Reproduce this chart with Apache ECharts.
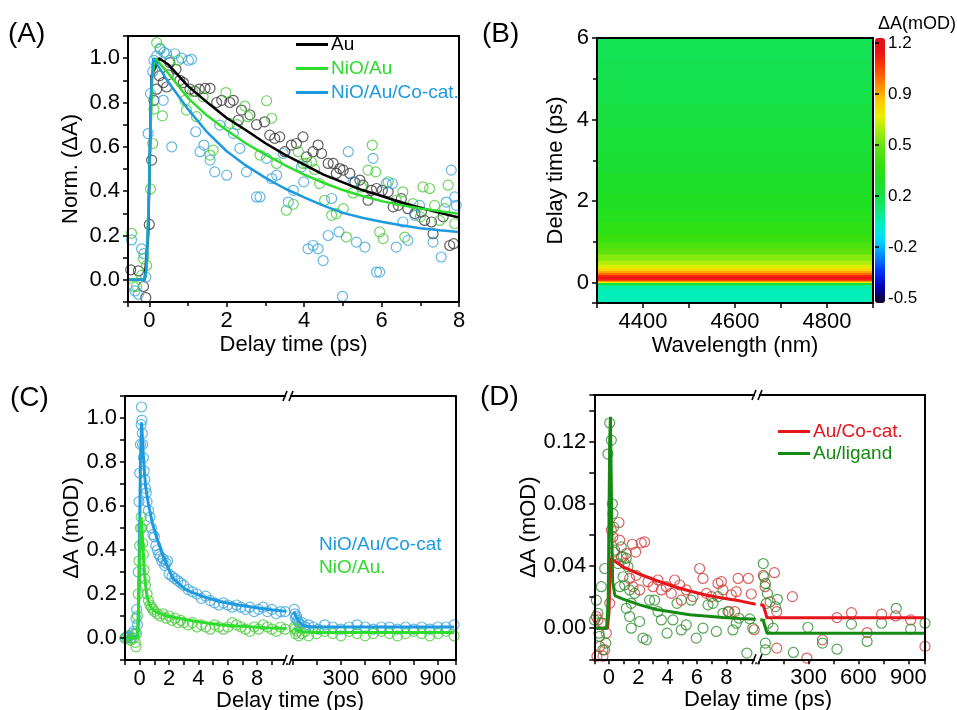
<!DOCTYPE html>
<html><head><meta charset="utf-8">
<script src="https://cdn.jsdelivr.net/npm/echarts@6/dist/echarts.min.js"></script>
<style>html,body{margin:0;padding:0;background:#fff}#c{width:957px;height:710px}</style>
</head><body><div id="c"></div>
<script>
const FONT = '"Liberation Sans", Arial, sans-serif';

// ---------- Panel A ----------
const aAuPts = [[-0.48,0.045],[-0.28,0.04],[-0.15,-0.03],[-0.09,-0.08],[0.0,0.25],[0.06,0.54],[0.12,0.81],[0.19,0.86],[0.26,0.92],[0.36,0.89],[0.45,0.87],[0.49,0.925],[0.53,0.98],[0.69,0.95],[0.79,0.90],[0.88,0.89],[1.05,0.86],[1.18,0.85],[1.29,0.86],[1.44,0.864],[1.57,0.864],[1.74,0.80],[1.87,0.81],[2.08,0.80],[2.17,0.81],[2.30,0.72],[2.38,0.766],[2.60,0.744],[2.77,0.70],[2.98,0.713],[3.11,0.653],[3.24,0.638],[3.37,0.645],[3.50,0.578],[3.67,0.608],[3.80,0.615],[3.97,0.645],[4.06,0.555],[4.23,0.578],[4.36,0.608],[4.45,0.57],[4.62,0.525],[4.75,0.525],[4.83,0.48],[4.92,0.502],[5.01,0.495],[5.18,0.48],[5.31,0.44],[5.44,0.45],[5.52,0.427],[5.65,0.359],[5.74,0.404],[5.87,0.412],[6.02,0.404],[6.17,0.397],[6.30,0.329],[6.43,0.336],[6.51,0.366],[6.68,0.321],[6.86,0.299],[7.03,0.306],[7.11,0.268],[7.29,0.261],[7.33,0.208],[7.59,0.284],[7.76,0.155],[7.86,0.163]];
const aNiOPts = [[-0.46,0.21],[-0.41,-0.03],[-0.33,-0.03],[-0.2,0.02],[-0.15,0.095],[-0.07,0.065],[0.03,0.41],[0.09,0.615],[0.12,0.77],[0.19,1.07],[0.28,1.045],[0.34,0.74],[0.53,0.99],[0.75,0.99],[0.92,0.81],[0.96,0.766],[1.12,0.85],[1.22,0.736],[1.39,0.826],[1.57,0.563],[1.65,0.585],[1.98,0.845],[2.08,0.706],[2.27,0.70],[2.47,0.784],[2.55,0.736],[2.86,0.563],[3.03,0.808],[3.16,0.729],[3.29,0.525],[3.54,0.314],[3.72,0.341],[3.85,0.578],[3.97,0.525],[4.06,0.525],[4.19,0.532],[4.27,0.498],[4.40,0.434],[4.53,0.359],[4.71,0.291],[4.83,0.299],[5.01,0.321],[5.09,0.193],[5.26,0.392],[5.48,0.419],[5.65,0.495],[5.76,0.608],[5.85,0.487],[5.95,0.216],[6.04,0.186],[6.17,0.442],[6.38,0.359],[6.55,0.397],[6.60,0.193],[6.81,0.344],[7.00,0.284],[7.07,0.419],[7.24,0.412],[7.37,0.336],[7.50,0.268],[7.63,0.321],[7.72,0.427],[7.89,0.253]];
const aCoPts = [[-0.46,0.18],[-0.37,-0.05],[-0.28,-0.065],[-0.2,0.14],[-0.14,0.118],[-0.09,0.012],[-0.03,0.66],[0.03,0.84],[0.09,0.94],[0.12,0.99],[0.19,1.01],[0.28,1.04],[0.38,1.026],[0.36,0.81],[0.45,1.02],[0.58,0.60],[0.66,1.02],[0.83,1.0],[1.01,0.99],[1.09,0.995],[1.20,0.668],[1.31,0.578],[1.41,0.608],[1.57,0.54],[1.69,0.487],[1.82,0.698],[2.0,0.472],[2.17,0.661],[2.34,0.593],[2.51,0.487],[2.77,0.374],[2.86,0.374],[3.03,0.548],[3.16,0.457],[3.29,0.472],[3.46,0.570],[3.59,0.351],[3.72,0.404],[3.93,0.51],[3.99,0.442],[4.10,0.14],[4.23,0.155],[4.36,0.14],[4.49,0.087],[4.62,0.20],[4.71,0.367],[4.90,0.216],[4.99,-0.075],[5.14,0.578],[5.26,0.442],[5.35,0.17],[5.57,0.148],[5.78,0.548],[5.87,0.035],[5.95,0.035],[6.12,0.434],[6.28,0.434],[6.38,0.148],[6.55,0.261],[6.68,0.178],[6.86,0.291],[6.98,0.336],[7.33,0.17],[7.54,0.103],[7.67,0.351],[7.80,0.495],[7.89,0.374],[7.93,0.336]];
const aAuFit = [[-0.55,0],[-0.12,0],[-0.03,0.2],[0.06,0.92],[0.25,1.0],[0.5,0.97],[1,0.874],[1.5,0.80],[2,0.73],[2.5,0.675],[3,0.616],[3.5,0.565],[4,0.52],[4.5,0.475],[5,0.44],[5.5,0.405],[6,0.378],[6.5,0.35],[7,0.325],[7.5,0.302],[8,0.281]];
const aNiOFit = [[-0.55,0],[-0.12,0],[-0.07,0.05],[0,0.45],[0.07,0.9],[0.15,1.0],[0.5,0.93],[1,0.82],[1.5,0.74],[2,0.675],[2.5,0.615],[3,0.565],[3.5,0.518],[4,0.475],[4.5,0.438],[5,0.405],[5.5,0.378],[6,0.355],[6.5,0.337],[7,0.322],[7.5,0.31],[8,0.298]];
const aCoFit = [[-0.55,0],[-0.12,0],[-0.08,0.05],[-0.02,0.3],[0.04,0.83],[0.1,1.0],[0.5,0.89],[1,0.77],[1.5,0.665],[2,0.58],[2.5,0.515],[3,0.46],[3.5,0.412],[4,0.372],[4.5,0.335],[5,0.302],[5.5,0.28],[6,0.262],[6.5,0.246],[7,0.233],[7.5,0.224],[8,0.216]];
const aNames = ['Au','NiO/Au','NiO/Au/Co-cat.'];

// ---------- Panel B ----------
const heatWavelengthRange = [4300, 4900];
const heatDelayEdges = [-0.5,-0.3,-0.15,-0.05,0,0.04,0.08,0.12,0.16,0.2,0.25,0.3,0.37,0.45,0.55,0.7,0.85,1.0,1.2,1.5,1.8,2.2,2.7,3.2,3.8,4.4,5.0,5.5,6.0];
const heatValues = [0.02,0.02,0.04,0.25,0.7,1.0,1.1,1.12,1.05,0.95,0.85,0.76,0.68,0.62,0.56,0.5,0.45,0.4,0.36,0.32,0.29,0.27,0.24,0.22,0.2,0.18,0.17,0.16];
const heatColors = ['#140028','#0000b4','#0030ff','#0088ff','#00d8ff','#00f0c8','#10e878','#18e040','#20e020','#38e010','#60e410','#a0ec10','#e8f000','#ffc800','#ff8800','#ff4400','#ee1414','#e0101c'];
const colorbarLabels = ['-0.5','-0.2','0.2','0.5','0.9','1.2'];

// ---------- Panel C ----------
const cCoLeftPts = [[-1,0.0],[-0.9,0.005],[-0.8,0.0],[-0.7,0.01],[-0.6,0.0],[-0.5,0.02],[-0.4,0.03],[-0.3,0.02],[-0.25,0.09],[-0.2,0.13],[-0.15,0.06],[-0.1,0.3],[-0.05,0.62],[0,0.75],[0.05,0.88],[0.1,0.97],[0.12,1.05],[0.15,0.99],[0.18,0.93],[0.2,0.88],[0.25,0.82],[0.3,0.76],[0.35,0.72],[0.4,0.68],[0.45,0.66],[0.5,0.62],[0.6,0.58],[0.7,0.55],[0.8,0.5],[0.9,0.47],[1.0,0.46],[1.1,0.42],[1.2,0.4],[1.3,0.38],[1.4,0.37],[1.5,0.35],[1.6,0.36],[1.7,0.33],[1.8,0.34],[1.9,0.35],[2.0,0.29],[2.2,0.28],[2.4,0.27],[2.6,0.26],[2.8,0.25],[3.0,0.24],[3.3,0.22],[3.6,0.21],[3.9,0.2],[4.2,0.18],[4.5,0.19],[4.8,0.17],[5.1,0.16],[5.4,0.15],[5.7,0.16],[6.0,0.15],[6.3,0.14],[6.6,0.15],[6.9,0.14],[7.2,0.13],[7.5,0.14],[7.8,0.12],[8.1,0.13],[8.4,0.14],[8.7,0.12],[9.0,0.13],[9.3,0.11],[9.6,0.12],[9.9,0.12]];
const cNiOLeftPts = [[-1,0],[-0.8,0.01],[-0.6,-0.01],[-0.4,0.0],[-0.3,-0.02],[-0.25,-0.04],[-0.2,0.02],[-0.15,0.1],[-0.1,0.2],[-0.05,0.35],[0,0.42],[0.05,0.5],[0.1,0.55],[0.15,0.5],[0.2,0.43],[0.25,0.38],[0.3,0.31],[0.35,0.27],[0.4,0.24],[0.5,0.2],[0.6,0.17],[0.7,0.15],[0.8,0.14],[0.9,0.13],[1.0,0.12],[1.2,0.11],[1.4,0.10],[1.6,0.11],[1.8,0.09],[2.0,0.10],[2.2,0.08],[2.4,0.09],[2.6,0.07],[2.8,0.08],[3.0,0.07],[3.3,0.06],[3.6,0.07],[3.9,0.05],[4.2,0.06],[4.5,0.05],[4.8,0.04],[5.1,0.06],[5.4,0.05],[5.7,0.04],[6.0,0.05],[6.3,0.07],[6.6,0.06],[6.9,0.05],[7.2,0.04],[7.5,0.03],[7.8,0.05],[8.1,0.04],[8.4,0.06],[8.7,0.05],[9.0,0.04],[9.3,0.03],[9.6,0.05],[9.9,0.04]];
const cCoRightPts = [[12,0.13],[15,0.11],[20,0.09],[25,0.10],[30,0.08],[40,0.07],[50,0.06],[60,0.07],[80,0.05],[100,0.06],[130,0.05],[160,0.04],[200,0.06],[250,0.05],[300,0.04],[350,0.05],[400,0.06],[450,0.05],[500,0.04],[550,0.05],[600,0.05],[650,0.04],[700,0.05],[750,0.04],[800,0.05],[850,0.04],[900,0.05],[950,0.05],[1000,0.06]];
const cNiORightPts = [[12,0.05],[15,0.04],[20,0.02],[30,0.03],[40,0.01],[60,0.02],[80,0.03],[100,0.01],[150,0.02],[200,0.03],[250,0.02],[300,0.01],[350,0.03],[400,0.02],[450,0.01],[500,0.02],[550,0.03],[600,0.02],[650,0.01],[700,0.02],[750,0.03],[800,0.02],[850,0.01],[900,0.02],[950,0.03],[1000,0.01]];
const cCoLeftFit = [[-1,0],[-0.2,0],[-0.1,0.05],[0,0.5],[0.05,0.8],[0.13,0.98],[0.23,0.85],[0.32,0.76],[0.41,0.686],[0.59,0.61],[0.87,0.52],[1.21,0.445],[1.56,0.378],[1.9,0.325],[2.25,0.272],[3.16,0.219],[4.3,0.188],[5.45,0.166],[6.6,0.151],[7.75,0.14],[8.9,0.128],[10,0.121]];
const cNiOLeftFit = [[-1,0],[-0.15,0],[-0.05,0.2],[0.05,0.5],[0.1,0.55],[0.15,0.5],[0.23,0.41],[0.3,0.32],[0.41,0.234],[0.5,0.19],[0.64,0.158],[0.8,0.135],[1.1,0.12],[1.5,0.107],[2.0,0.098],[3.16,0.083],[4.3,0.071],[5.45,0.06],[6.6,0.055],[7.75,0.05],[8.9,0.046],[10,0.043]];
const cCoRightFit = [[10,0.12],[20,0.1],[40,0.075],[60,0.06],[90,0.052],[150,0.05],[1000,0.05]];
const cNiORightFit = [[10,0.043],[20,0.035],[40,0.03],[80,0.027],[150,0.025],[1000,0.025]];

// ---------- Panel D ----------
const dCoLeftPts = [[-0.86,0.0075],[-0.75,0.0053],[-0.52,0.0032],[-0.63,-0.0117],[-0.41,-0.018],[-0.29,-0.0139],[-0.82,-0.018],[-0.18,-0.0032],[0.05,0.016],[0.16,0.063],[0.27,0.0587],[0.32,0.049],[0.68,0.068],[0.73,0.0566],[0.84,0.0459],[1.07,0.0416],[1.18,0.048],[1.59,0.054],[1.82,0.049],[2.2,0.0549],[2.43,0.0555],[1.86,0.034],[1.41,0.032],[1.64,0.0267],[2.09,0.0246],[2.66,0.0299],[3.0,0.0267],[3.34,0.031],[3.57,0.0246],[3.91,0.0267],[4.25,0.0224],[4.48,0.031],[4.82,0.0278],[4.93,0.018],[5.27,0.0246],[5.73,0.0203],[6.18,0.0384],[6.41,0.032],[6.64,0.0224],[6.98,0.0203],[7.43,0.0288],[7.66,0.0299],[7.77,0.0246],[8.18,0.0107],[8.34,0.0214],[8.57,0.0107],[8.68,0.0235],[8.8,0.032],[9.5,0.032],[9.7,0.022],[9.9,-0.001]];
const dLigLeftPts = [[-0.86,0.018],[-0.98,0.0053],[-0.75,0.0096],[-0.52,0.0267],[-0.68,-0.0032],[-0.41,0.0032],[-0.64,-0.0053],[-0.29,0.0384],[-0.22,-0.0096],[-0.41,-0.0139],[-0.07,0.112],[0.05,0.132],[0.16,0.121],[0.23,0.08],[0.27,0.0737],[0.32,0.065],[0.39,0.0502],[0.62,0.0416],[0.84,0.0523],[0.96,0.0459],[1.18,0.0449],[1.3,0.0395],[0.96,0.0331],[0.73,0.0267],[1.07,0.0278],[1.41,0.0246],[1.52,0.016],[1.75,0.0224],[1.18,0.0128],[1.41,0.0075],[1.52,0.0],[2.09,0.0043],[2.32,-0.0064],[2.55,-0.0075],[2.77,0.018],[3.11,0.018],[3.34,0.0107],[3.57,0.0053],[3.96,-0.0032],[4.36,0.0053],[4.64,0.016],[4.93,-0.0011],[5.27,0.0021],[5.61,0.018],[5.95,-0.0064],[6.41,0.0],[6.75,0.015],[7.09,0.016],[7.43,0.0203],[7.32,-0.0021],[7.77,0.0096],[8.11,0.0107],[8.45,-0.0011],[8.68,0.0032],[8.86,0.0064],[9.4,-0.016],[9.6,0.006],[9.8,0.0]];
const dCoRightPts = [[28,0.034],[39,0.0267],[69,0.017],[95,0.0357],[109,0.0107],[109,-0.0128],[203,0.0203],[290,-0.0192],[384,-0.0075],[471,0.0068],[558,0.01],[652,-0.0028],[739,0.009],[823,0.0079],[914,0.0053],[1000,-0.0117]];
const dLigRightPts = [[28,0.0416],[33,0.0331],[41,0.0288],[47,0.016],[53,0.0224],[57,0.0032],[41,-0.0096],[41,-0.0139],[87,0.0],[101,0.0139],[113,0.0186],[209,-0.0156],[296,0.0006],[384,-0.0096],[471,-0.0135],[558,0.0026],[652,-0.0085],[739,0.0032],[827,0.0128],[914,-0.0006],[1000,0.0032]];
const dCoLeftFit = [[-1,0],[-0.1,0],[0,0.01],[0.05,0.03],[0.1,0.045],[0.96,0.0395],[2.1,0.0347],[3.23,0.0307],[4.37,0.027],[5.5,0.0239],[6.6,0.0214],[7.8,0.0193],[8.9,0.0176],[10,0.0154]];
const dLigLeftFit = [[-1,0],[-0.15,0],[-0.05,0.02],[0,0.07],[0.05,0.12],[0.1,0.136],[0.15,0.1],[0.2,0.06],[0.25,0.03],[0.4,0.021],[0.96,0.0187],[2.1,0.015],[3.23,0.012],[5.5,0.0086],[7.8,0.0069],[8.9,0.0062],[10,0.0058]];
const dCoRightFit = [[10,0.0149],[28,0.0149],[50,0.0068],[1000,0.0068]];
const dLigRightFit = [[10,0.0053],[28,0.0053],[50,-0.0032],[1000,-0.0032]];
const dNames = ['Au/Co-cat.','Au/ligand'];

// ---------- colours ----------
const COL = {
  blackLine:'#000000', blackPt:'#3a3a3a',
  greenLine:'#2edc2e', greenPt:'#4ccb3c',
  blueLine:'#1e9ae0', bluePt:'#3ea6dc',
  redLine:'#e8141c', redPt:'#d23c3c',
  dGreenLine:'#148a14', dGreenPt:'#2e8e2e'
};

const chart = echarts.init(document.getElementById('c'), null, {renderer:'canvas'});

const txt = {color:'#000', fontSize:22, fontFamily:FONT};
function lineOnly(extra){ return Object.assign({type:'value', axisLine:{show:true, onZero:false, lineStyle:{color:'#000', width:2}}, axisTick:{show:false}, axisLabel:{show:false}, splitLine:{show:false}, z:10}, extra); }
function mainAxis(extra){ return Object.assign({type:'value', axisLine:{show:true, onZero:false, lineStyle:{color:'#000', width:2}}, axisTick:{show:true, length:5, lineStyle:{color:'#000', width:1.5}}, axisLabel:Object.assign({margin:8}, txt), splitLine:{show:false}, nameTextStyle:txt, z:10}, extra); }

function evenTenths(v){ const k = Math.round(v*10); return (k%2===0) ? (k/10).toFixed(1) : ''; }
function evenInts(v){ const k = Math.round(v); return (Math.abs(v-k)<1e-6 && k>=0 && k<=8 && k%2===0) ? String(k) : ''; }
function hundreds3(v){ const k = Math.round(v); return (k>0 && k%300===0) ? String(k) : ''; }
function dLabel(v){ const k = Math.round(v*100); return (k%4===0 && k>=0) ? (k/100).toFixed(2) : ''; }

function scatter(name, data, color, xi, yi){ return {name, type:'scatter', data, xAxisIndex:xi, yAxisIndex:yi, symbol:'circle', symbolSize:10, itemStyle:{color:'rgba(0,0,0,0)', borderColor:color, borderWidth:1.2}, z:3, silent:true}; }
function fit(name, data, color, xi, yi, w){ return {name, type:'line', data, xAxisIndex:xi, yAxisIndex:yi, symbol:'none', lineStyle:{color, width:w}, itemStyle:{color}, z:5, silent:true}; }

function breakMark(x, y){
  return {type:'group', x, y, z:100, children:[
    {type:'rect', z:100, shape:{x:-4, y:-3, width:4, height:6}, style:{fill:'#fff'}},
    {type:'line', z:101, shape:{x1:-7, y1:5, x2:-3, y2:-5}, style:{stroke:'#000', lineWidth:1.6}},
    {type:'line', z:101, shape:{x1:-1, y1:5, x2:3, y2:-5}, style:{stroke:'#000', lineWidth:1.6}}
  ]};
}
function label(text, x, y, size, color, align){
  return {type:'text', x, y, z:100, style:{text, font: size+'px '+FONT, fill: color||'#000', align: align||'left', verticalAlign:'middle'}};
}
const legendCommon = {orient:'vertical', itemWidth:32, itemHeight:3, icon:'rect', selectedMode:false, padding:0, textStyle:{fontSize:19, fontFamily:FONT, padding:[0,0,0,-2]}};

const option = {
  animation:false,
  backgroundColor:'#fff',
  textStyle:{fontFamily:FONT},
  grid:[
    {left:128, top:36, width:331, height:266, outerBoundsMode:'none'},
    {left:597, top:38, width:276, height:265, outerBoundsMode:'none'},
    {left:875, top:43, width:10, height:255, outerBoundsMode:'none'},
    {left:125, top:396, width:167.4, height:264, outerBoundsMode:'none'},
    {left:292.4, top:396, width:163.3, height:264, outerBoundsMode:'none'},
    {left:594.3, top:395, width:164.3, height:264.3, outerBoundsMode:'none'},
    {left:758.6, top:395, width:166.4, height:264.3, outerBoundsMode:'none'}
  ],
  xAxis:[
    mainAxis({gridIndex:0, min:-0.55, max:8, splitNumber:4, axisLabel:Object.assign({margin:8, showMinLabel:false}, txt), minorTick:{show:true, splitNumber:2, length:4, lineStyle:{color:'#000', width:1.5}}, name:'Delay time (ps)', nameLocation:'middle', nameGap:32}),
    lineOnly({gridIndex:0, position:'top'}),
    mainAxis({gridIndex:1, min:4300, max:4900, interval:100, axisLabel:Object.assign({margin:8, formatter:v=>((Math.round(v)-4400)%200===0 && v>=4400 && v<=4800)?String(Math.round(v)):''}, txt), name:'Wavelength (nm)', nameLocation:'middle', nameGap:32}),
    lineOnly({gridIndex:1, position:'top'}),
    {type:'value', gridIndex:2, show:false},
    mainAxis({gridIndex:3, min:-1, max:10.4, interval:1, axisLabel:Object.assign({margin:8, formatter:evenInts}, txt)}),
    lineOnly({gridIndex:3, position:'top'}),
    mainAxis({gridIndex:4, min:0, max:1010, interval:150, axisLabel:Object.assign({margin:8, formatter:hundreds3}, txt)}),
    lineOnly({gridIndex:4, position:'top'}),
    mainAxis({gridIndex:5, min:-1, max:10.2, interval:1, axisLabel:Object.assign({margin:8, formatter:evenInts}, txt)}),
    lineOnly({gridIndex:5, position:'top'}),
    mainAxis({gridIndex:6, min:0, max:1000, interval:150, axisLabel:Object.assign({margin:8, formatter:hundreds3}, txt)}),
    lineOnly({gridIndex:6, position:'top'})
  ],
  yAxis:[
    mainAxis({gridIndex:0, min:-0.1, max:1.1, interval:0.1, axisLabel:Object.assign({margin:8, formatter:evenTenths}, txt), name:'Norm. (\u0394A)', nameLocation:'middle', nameGap:46}),
    lineOnly({gridIndex:0, position:'right'}),
    mainAxis({gridIndex:1, min:-0.5, max:6, splitNumber:3, axisLabel:Object.assign({margin:8, showMinLabel:false}, txt), minorTick:{show:true, splitNumber:2, length:4, lineStyle:{color:'#000', width:1.5}}, name:'Delay time (ps)', nameLocation:'middle', nameGap:30}),
    lineOnly({gridIndex:1, position:'right'}),
    {type:'category', gridIndex:2, position:'right', data:colorbarLabels, boundaryGap:false, axisLine:{show:false}, axisTick:{show:true, length:4, lineStyle:{color:'#000', width:1.5}}, axisLabel:{margin:3, color:'#000', fontSize:17, fontFamily:FONT}, splitLine:{show:false}, z:10},
    mainAxis({gridIndex:3, min:-0.1, max:1.1, interval:0.1, axisLabel:Object.assign({margin:8, formatter:evenTenths}, txt), name:'\u0394A (mOD)', nameLocation:'middle', nameGap:42}),
    lineOnly({gridIndex:4, position:'right', min:-0.1, max:1.1}),
    mainAxis({gridIndex:5, min:-0.02, max:0.15, interval:0.02, axisLabel:Object.assign({margin:8, formatter:dLabel}, txt), name:'\u0394A (mOD)', nameLocation:'middle', nameGap:54}),
    lineOnly({gridIndex:6, position:'right', min:-0.02, max:0.15})
  ],
  visualMap:[{type:'continuous', seriesIndex:0, dimension:2, min:-0.5, max:1.2, inRange:{color:heatColors}, calculable:false, left:875, top:38, itemWidth:10, itemHeight:265, text:null, padding:0, orient:'vertical', hoverLink:false}],
  legend:[
    Object.assign({left:296, top:35, itemGap:5,
      data:[{name:aNames[0], textStyle:{color:COL.blackLine}},{name:aNames[1], textStyle:{color:COL.greenLine}},{name:aNames[2], textStyle:{color:COL.blueLine}}]}, legendCommon),
    Object.assign({left:778, top:422, itemGap:3,
      data:[{name:dNames[0], textStyle:{color:COL.redLine}},{name:dNames[1], textStyle:{color:COL.dGreenLine}}]}, legendCommon)
  ],
  series:[
    {type:'custom', name:'heat', xAxisIndex:2, yAxisIndex:2, dimensions:['t0','t1','v'], encode:{y:[0,1]}, clip:true, silent:true,
      data: heatValues.map((v,i)=>[heatDelayEdges[i], heatDelayEdges[i+1], v]),
      renderItem:function(params, api){
        const p0 = api.coord([heatWavelengthRange[0], api.value(1)]);
        const p1 = api.coord([heatWavelengthRange[1], api.value(0)]);
        return {type:'rect', shape:{x:p0[0], y:p0[1]-0.5, width:p1[0]-p0[0], height:p1[1]-p0[1]+1}, style:{fill:api.visual('color')}};
      }},
    scatter('Au pts', aAuPts, COL.blackPt, 0, 0),
    scatter('NiO/Au pts', aNiOPts, COL.greenPt, 0, 0),
    scatter('Co pts', aCoPts, COL.bluePt, 0, 0),
    fit(aNames[0], aAuFit, COL.blackLine, 0, 0, 2.5),
    fit(aNames[1], aNiOFit, COL.greenLine, 0, 0, 2.5),
    fit(aNames[2], aCoFit, COL.blueLine, 0, 0, 2.5),
    scatter('cCoL', cCoLeftPts, COL.bluePt, 5, 5),
    scatter('cNiOL', cNiOLeftPts, COL.greenPt, 5, 5),
    scatter('cCoR', cCoRightPts, COL.bluePt, 7, 6),
    scatter('cNiOR', cNiORightPts, COL.greenPt, 7, 6),
    fit('cCoLf', cCoLeftFit, COL.blueLine, 5, 5, 3),
    fit('cNiOLf', cNiOLeftFit, COL.greenLine, 5, 5, 3),
    fit('cCoRf', cCoRightFit, COL.blueLine, 7, 6, 3),
    fit('cNiORf', cNiORightFit, COL.greenLine, 7, 6, 3),
    scatter('dCoL', dCoLeftPts, COL.redPt, 9, 7),
    scatter('dLigL', dLigLeftPts, COL.dGreenPt, 9, 7),
    scatter('dCoR', dCoRightPts, COL.redPt, 11, 8),
    scatter('dLigR', dLigRightPts, COL.dGreenPt, 11, 8),
    fit(dNames[0], dCoLeftFit, COL.redLine, 9, 7, 3),
    fit(dNames[1], dLigLeftFit, COL.dGreenLine, 9, 7, 3),
    fit('dCoRf', dCoRightFit, COL.redLine, 11, 8, 3),
    fit('dLigRf', dLigRightFit, COL.dGreenLine, 11, 8, 3)
  ],
  graphic:[
    label('(A)', 8, 34, 28),
    label('(B)', 482, 34, 28),
    label('(C)', 10, 398, 28),
    label('(D)', 480, 397, 28),
    label('\u0394A(mOD)', 917, 24, 18, '#000', 'center'),
    label('NiO/Au/Co-cat', 319, 545, 19, COL.blueLine),
    label('NiO/Au.', 319, 568, 19, COL.greenLine),
    label('Delay time (ps)', 290, 701, 22, '#000', 'center'),
    label('Delay time (ps)', 758, 700, 22, '#000', 'center'),
    breakMark(290, 396), breakMark(290, 660),
    breakMark(759, 395), breakMark(759, 659.3)
  ]
};
chart.setOption(option);
</script>
</body></html>
